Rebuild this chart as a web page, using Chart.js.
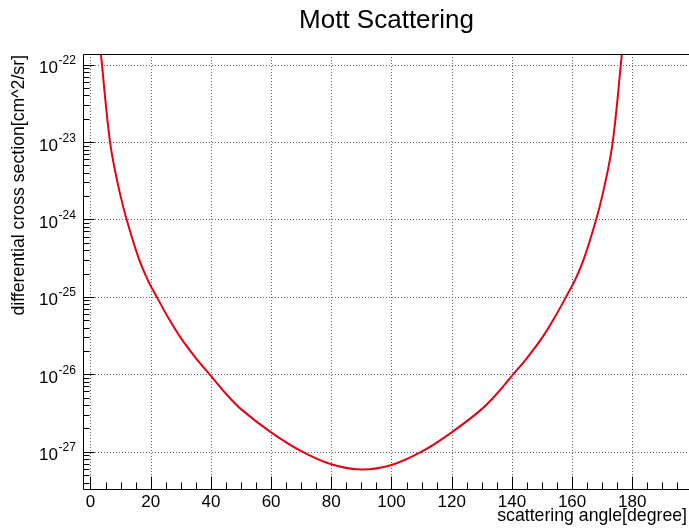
<!DOCTYPE html>
<html>
<head>
<meta charset="utf-8">
<script src="https://cdn.jsdelivr.net/npm/chart.js@4"></script>
<style>
  html, body { margin: 0; padding: 0; background: #fff; overflow: hidden; }
  #wrap { width: 700px; height: 531px; }
</style>
</head>
<body>
<div id="wrap"><canvas id="c" width="700" height="531"></canvas></div>
<script>
// ---- data ----
const angles = [3.4, 4, 5, 6.5, 8, 10, 12, 16, 19, 22, 26, 30, 35, 40, 45, 50, 60, 70, 80, 90,
                100, 110, 120, 130, 135, 140, 145, 150, 154, 158, 161, 164, 168, 170, 172, 173.5,
                175, 176, 176.6];
const crossSection = [1.45e-22, 8.5e-23, 3.3e-23, 1.0e-23, 4.57e-24, 2.0e-24, 1.0e-24, 3.16e-25,
                      1.66e-25, 1.0e-25, 5.25e-26, 2.95e-26, 1.62e-26, 9.55e-27, 5.6e-27,
                      3.55e-27, 1.78e-27, 1.02e-27, 6.9e-28, 5.9e-28,
                      6.75e-28, 1.0e-27, 1.78e-27, 3.55e-27, 5.6e-27, 9.55e-27, 1.62e-26,
                      2.95e-26, 5.25e-26, 1.0e-25, 1.66e-25, 3.16e-25,
                      1.0e-24, 2.0e-24, 4.57e-24, 1.0e-23, 3.3e-23, 8.5e-23, 1.45e-22];
const xTickValues = [0, 20, 40, 60, 80, 100, 120, 140, 160, 180];
const yTickExponents = [-27, -26, -25, -24, -23, -22];

const titleText = 'Mott Scattering';
const xTitle = 'scattering angle[degree]';
const yTitle = 'differential cross section[cm^2/sr]';

const FONT = '"Liberation Sans", Arial, Helvetica, sans-serif';

const rootPlugin = {
  id: 'rootStyle',
  beforeDatasetsDraw(chart) {
    const ctx = chart.ctx, a = chart.chartArea;
    const xs = chart.scales.x, ys = chart.scales.y;
    ctx.save();
    ctx.strokeStyle = '#666';
    ctx.lineWidth = 1;
    ctx.setLineDash([1, 2]);
    xTickValues.forEach(v => {
      const x = Math.round(xs.getPixelForValue(v)) + 0.5;
      ctx.beginPath(); ctx.moveTo(x, a.top); ctx.lineTo(x, a.bottom); ctx.stroke();
    });
    yTickExponents.forEach(e => {
      const y = Math.round(ys.getPixelForValue(Math.pow(10, e))) + 0.5;
      ctx.beginPath(); ctx.moveTo(a.left, y); ctx.lineTo(a.right, y); ctx.stroke();
    });
    ctx.restore();
  },
  afterDraw(chart) {
    const ctx = chart.ctx, a = chart.chartArea;
    const xs = chart.scales.x, ys = chart.scales.y;
    ctx.save();
    ctx.setLineDash([]);
    ctx.strokeStyle = '#000';
    ctx.lineWidth = 1;
    // frame
    const L = Math.round(a.left) + 0.5, T = Math.round(a.top) + 0.5;
    const B = Math.round(a.bottom) + 0.5, R = Math.round(a.right) + 0.5;
    ctx.beginPath();
    ctx.moveTo(L, T); ctx.lineTo(R, T); ctx.lineTo(R, B); ctx.lineTo(L, B); ctx.closePath();
    ctx.stroke();
    // x ticks (major every 20, minor every 5)
    for (let v = 0; v <= xs.max; v += 5) {
      const x = Math.round(xs.getPixelForValue(v)) + 0.5;
      const len = (v % 20 === 0) ? 13 : 7;
      ctx.beginPath(); ctx.moveTo(x, B); ctx.lineTo(x, B - len); ctx.stroke();
    }
    // y ticks (major each decade, minor 2..9)
    for (let e = -28; e <= -22; e++) {
      for (let m = 1; m <= 9; m++) {
        const val = m * Math.pow(10, e);
        if (val < ys.min || val > ys.max) continue;
        const y = Math.round(ys.getPixelForValue(val)) + 0.5;
        const len = (m === 1) ? 11 : 6;
        ctx.beginPath(); ctx.moveTo(L, y); ctx.lineTo(L + len, y); ctx.stroke();
      }
    }
    ctx.fillStyle = '#000';
    // x tick labels
    ctx.font = '17px ' + FONT;
    ctx.textAlign = 'center';
    ctx.textBaseline = 'alphabetic';
    xTickValues.forEach(v => {
      ctx.fillText(String(v), xs.getPixelForValue(v), 507);
    });
    // y tick labels 10^e
    yTickExponents.forEach(e => {
      const y = ys.getPixelForValue(Math.pow(10, e));
      ctx.font = '17px ' + FONT;
      ctx.textAlign = 'right';
      ctx.fillText('10', 58, y + 8.5);
      ctx.font = '12px ' + FONT;
      ctx.textAlign = 'left';
      ctx.fillText(String(e), 58.5, y - 0.5);
    });
    // title
    ctx.font = '26px ' + FONT;
    ctx.textAlign = 'center';
    ctx.fillText(titleText, 386.5, 27.5);
    // x axis title
    ctx.font = '17.7px ' + FONT;
    ctx.textAlign = 'right';
    ctx.fillText(xTitle, 687, 521);
    // y axis title
    ctx.translate(23.5, 55);
    ctx.rotate(-Math.PI / 2);
    ctx.textAlign = 'right';
    ctx.fillText(yTitle, 0, 0);
    ctx.restore();
  }
};

new Chart(document.getElementById('c'), {
  type: 'line',
  data: {
    datasets: [{
      label: 'Mott',
      data: angles.map((a, i) => ({ x: a, y: crossSection[i] })),
      borderColor: 'rgb(232,0,18)',
      borderWidth: 2,
      pointRadius: 0,
      fill: false,
      tension: 0.35
    }]
  },
  options: {
    responsive: false,
    animation: false,
    devicePixelRatio: 1,
    layout: { padding: { left: 83, top: 54, right: 7.5, bottom: 42 } },
    plugins: { legend: { display: false }, tooltip: { enabled: false }, title: { display: false } },
    scales: {
      x: { type: 'linear', display: false, min: -2.49, max: 200 },
      y: { type: 'logarithmic', display: false, min: 3.3e-28, max: 1.37e-22 }
    }
  },
  plugins: [rootPlugin]
});
</script>
</body>
</html>
